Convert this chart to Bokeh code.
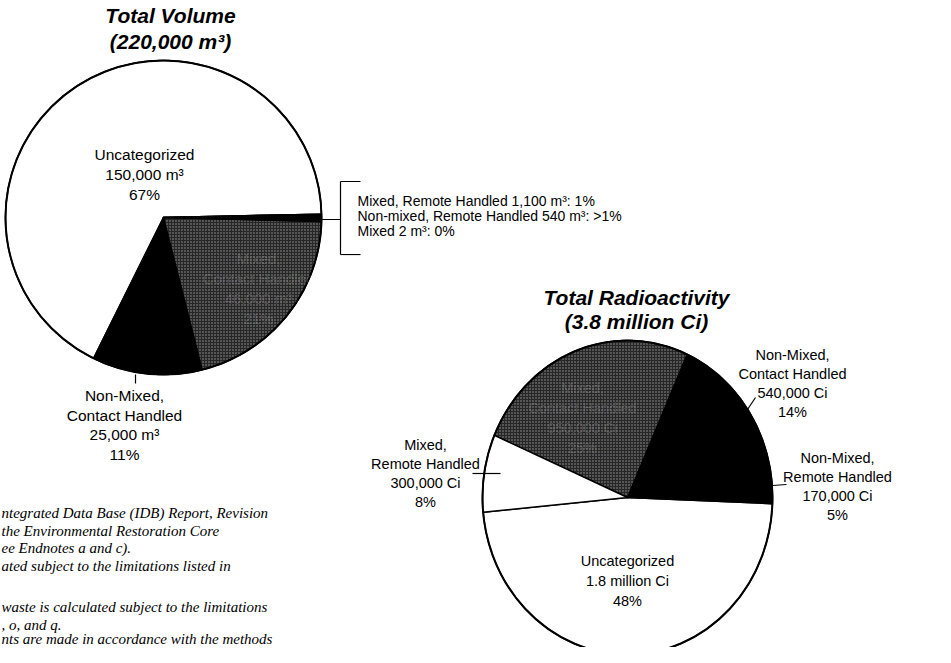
import numpy as np
from bokeh.plotting import figure
from bokeh.models import Range1d, ColumnDataSource
from bokeh.embed import file_html
from bokeh.resources import INLINE
from bokeh.core.properties import value

# ---------------- data ----------------
vol_title = ["Total Volume", "(220,000 m³)"]
vol_categories = ["Uncategorized", "Non-Mixed, Contact Handled", "Mixed, Contact Handled",
                  "Mixed, Remote Handled", "Non-mixed, Remote Handled", "Mixed"]
vol_values = [150000, 25000, 46000, 1100, 540, 2]
vol_amounts = ["150,000 m³", "25,000 m³", "46,000 m³", "1,100 m³", "540 m³", "2 m³"]
vol_percents = ["67%", "11%", "21%", "1%", ">1%", "0%"]
vol_fill = ["white", "black", "stipple", "black", "black", "black"]

rad_title = ["Total Radioactivity", "(3.8 million Ci)"]
rad_categories = ["Uncategorized", "Non-Mixed, Remote Handled", "Non-Mixed, Contact Handled",
                  "Mixed, Contact Handled", "Mixed, Remote Handled"]
rad_values = [1800000, 170000, 540000, 950000, 300000]
rad_amounts = ["1.8 million Ci", "170,000 Ci", "540,000 Ci", "950,000 Ci", "300,000 Ci"]
rad_percents = ["48%", "5%", "14%", "25%", "8%"]
rad_fill = ["white", "black", "black", "stipple", "white"]

footnotes = [
    "ntegrated Data Base (IDB) Report, Revision",
    "the Environmental Restoration Core",
    "ee Endnotes a and c).",
    "ated subject to the limitations listed in",
    "",
    "waste is calculated subject to the limitations",
    ", o, and q.",
    "nts are made in accordance with the methods",
]

# ---------------- layout / style ----------------
W, H = 935, 647
VOL = dict(cx=163, cy=217, rx=158, ry=157, start=1.2)
RAD = dict(cx=627, cy=497, rx=145, ry=157, start=185.4)
SANS = value("Liberation Sans")
SERIF = value("Liberation Serif")
STIPPLE = "#262626"

p = figure(width=W, height=H, x_range=Range1d(0, W), y_range=Range1d(H, 0),
           x_axis_type=None, y_axis_type=None, output_backend="svg",
           toolbar_location=None, min_border=0)
p.grid.visible = False
p.outline_line_color = None
p.background_fill_color = "white"
p.border_fill_color = "white"


def slices(values, fills, g):
    vals = np.asarray(values, float)
    fr = vals / vals.sum()
    ends = g["start"] + 360.0 * np.cumsum(fr)
    starts = np.concatenate([[g["start"]], ends[:-1]])
    xs, ys = [], []
    for a0, a1 in zip(starts, ends):
        t = np.radians(np.linspace(a0, a1, int(abs(a1 - a0) * 2) + 3))
        xs.append([g["cx"]] + list(g["cx"] + g["rx"] * np.cos(t)) + [g["cx"]])
        ys.append([g["cy"]] + list(g["cy"] - g["ry"] * np.sin(t)) + [g["cy"]])
    fc = [STIPPLE if f == "stipple" else f for f in fills]
    hp = ["dot" if f == "stipple" else " " for f in fills]
    return ColumnDataSource(dict(xs=xs, ys=ys, fc=fc, hp=hp))


for vals, fills, g in [(vol_values, vol_fill, VOL), (rad_values, rad_fill, RAD)]:
    src = slices(vals, fills, g)
    p.patches("xs", "ys", source=src, fill_color="fc", line_color="black",
              line_width=1.5, line_join="round", hatch_pattern="hp",
              hatch_color="white", hatch_alpha=0.55, hatch_scale=3.0,
              hatch_weight=1.0)
    p.ellipse(x=[g["cx"]], y=[g["cy"]], width=[2 * g["rx"]], height=[2 * g["ry"]],
              fill_color=None, line_color="black", line_width=2)


def label_lines(cat, amount, pct):
    parts = cat.split(", ")
    lines = [s + "," for s in parts[:-1]] + [parts[-1]]
    return lines + [amount, pct]


def add_text(xs, ys, texts, size, font=SANS, style="normal", align="center",
             color="black", alpha=1.0):
    p.text(x=xs, y=ys, text=texts, text_font=font, text_font_size=size,
           text_font_style=style, text_align=align, text_baseline="middle",
           text_color=color, text_alpha=alpha)


# titles
add_text([170, 170], [15, 41], vol_title, "21px", style="bold italic")
add_text([636, 636], [297, 321], rad_title, "21px", style="bold italic")

# volume labels: (x, top y, line spacing, size, color, alpha)
vol_pos = {0: (144, 154, 20, "15.5px", "black", 1.0),
           1: (124, 395, 19.7, "15.5px", "black", 1.0),
           2: (258, 258, 20, "15px", "white", 0.16)}
for i, (x, y0, dy, sz, col, al) in vol_pos.items():
    lines = label_lines(vol_categories[i], vol_amounts[i], vol_percents[i])
    add_text([x] * len(lines), [y0 + k * dy for k in range(len(lines))], lines,
             sz, color=col, alpha=al)

# bracketed small categories
br = [f"{vol_categories[i]} {vol_amounts[i]}: {vol_percents[i]}" for i in (3, 4, 5)]
add_text([357] * 3, [200, 215, 230], br, "14px", align="left")

# radioactivity labels
rad_pos = {0: (627, 560, 20, "14.5px", "black", 1.0),
           1: (837, 457, 19.3, "14.5px", "black", 1.0),
           2: (792, 354, 19.3, "14.5px", "black", 1.0),
           3: (582, 387, 20, "14.5px", "white", 0.16),
           4: (425, 444, 19, "14.5px", "black", 1.0)}
for i, (x, y0, dy, sz, col, al) in rad_pos.items():
    lines = label_lines(rad_categories[i], rad_amounts[i], rad_percents[i])
    add_text([x] * len(lines), [y0 + k * dy for k in range(len(lines))], lines,
             sz, color=col, alpha=al)

# leader lines
seg = dict(
    x0=[135, 321, 340, 340, 340, 747, 772, 472],
    y0=[374, 219, 181, 181, 254, 409, 485, 473],
    x1=[135, 340, 340, 360, 360, 755, 786, 500],
    y1=[383, 219, 254, 181, 254, 397, 484, 473],
)
p.segment(x0=seg["x0"], y0=seg["y0"], x1=seg["x1"], y1=seg["y1"],
          line_color="black", line_width=1.2)

# footnotes (partial lines of the page text beside the charts)
fy = [512, 530, 547, 565, 586, 606, 624, 638]
add_text([1] * len(footnotes), fy, footnotes, "15px", font=SERIF,
         style="italic", align="left", color="black")

open("out.html", "w").write(file_html(p, INLINE))
